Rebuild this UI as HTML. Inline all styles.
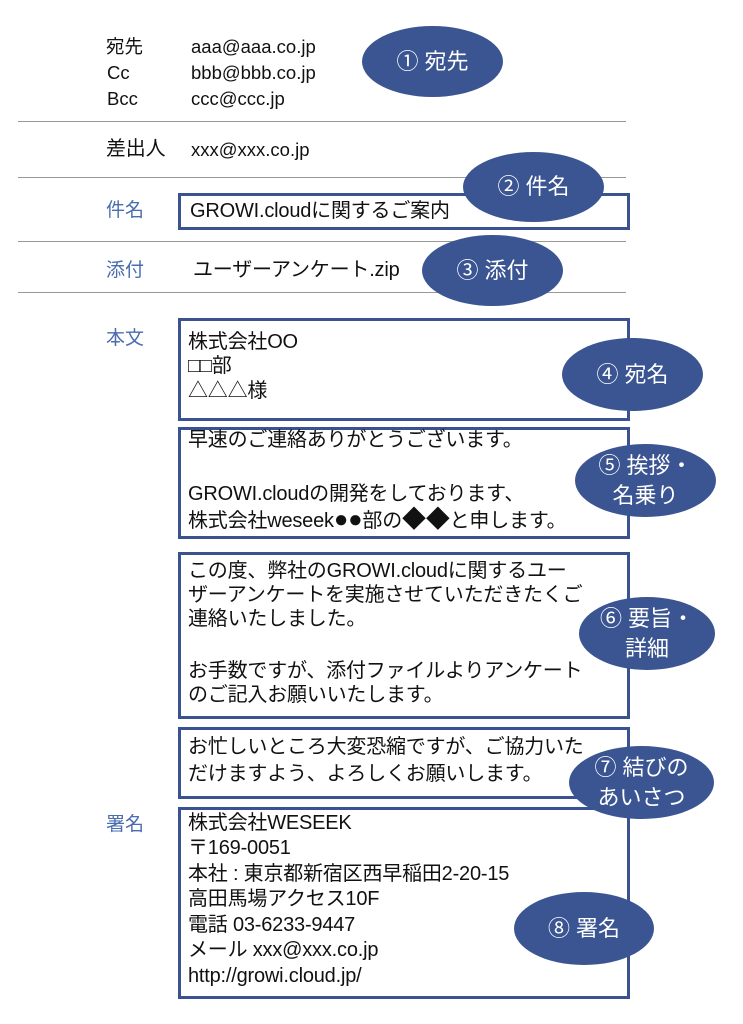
<!DOCTYPE html>
<html><head><meta charset="utf-8"><style>
body{margin:0;width:743px;height:1024px;background:#fff;position:relative;overflow:hidden;font-family:"Liberation Sans","Noto Sans CJK JP",sans-serif;color:#111;}
.t{position:absolute;font-size:18.5px;white-space:nowrap;line-height:20px;}
.b{font-size:20px;letter-spacing:-0.2px;}
.l{color:#4a6db0;font-size:19px;}
.hr{position:absolute;left:18px;width:608px;height:0;border-top:1.5px solid #999;}
.box{position:absolute;left:178px;width:446px;border:3px solid #3a5290;}
.e{position:absolute;background:#3a5591;border-radius:50%;color:#fff;font-size:22px;display:flex;align-items:center;justify-content:center;text-align:center;line-height:30px;}
.big{font-size:24px;}
</style></head><body>
<div class="t" style="left:106px;top:37px">宛先</div>
<div class="t" style="left:191px;top:37px">aaa@aaa.co.jp</div>
<div class="t" style="left:107px;top:63px">Cc</div>
<div class="t" style="left:191px;top:63px">bbb@bbb.co.jp</div>
<div class="t" style="left:107px;top:89px">Bcc</div>
<div class="t" style="left:191px;top:89px">ccc@ccc.jp</div>
<div class="hr" style="top:121px"></div>
<div class="t b" style="left:106px;top:139px">差出人</div>
<div class="t" style="left:191px;top:140px">xxx@xxx.co.jp</div>
<div class="hr" style="top:177px"></div>
<div class="t l" style="left:106px;top:201px">件名</div>
<div class="box" style="top:193px;height:31px;"></div>
<div class="t b" style="left:190px;top:201px">GROWI.cloudに関するご案内</div>
<div class="hr" style="top:241px"></div>
<div class="t l" style="left:106px;top:261px">添付</div>
<div class="t b" style="left:193px;top:260px">ユーザーアンケート.zip</div>
<div class="hr" style="top:292px"></div>
<div class="t l" style="left:106px;top:329px">本文</div>
<div class="box" style="top:318px;height:97px;"></div>
<div class="t b" style="left:188px;top:332px">株式会社OO</div>
<div class="t b" style="left:188px;top:356px">□□部</div>
<div class="t b" style="left:188px;top:381px">△△△様</div>
<div class="box" style="top:427px;height:106px;"></div>
<div class="t b" style="left:188px;top:430px">早速のご連絡ありがとうございます。</div>
<div class="t b" style="left:188px;top:484px">GROWI.cloudの開発をしております、</div>
<div class="t b" style="left:188px;top:510px">株式会社weseek<span class="big">●●</span>部の<span class="big">◆◆</span>と申します。</div>
<div class="box" style="top:552px;height:161px;"></div>
<div class="t b" style="left:188px;top:561px">この度、弊社のGROWI.cloudに関するユー</div>
<div class="t b" style="left:188px;top:585px">ザーアンケートを実施させていただきたくご</div>
<div class="t b" style="left:188px;top:609px">連絡いたしました。</div>
<div class="t b" style="left:188px;top:661px">お手数ですが、添付ファイルよりアンケート</div>
<div class="t b" style="left:188px;top:685px">のご記入お願いいたします。</div>
<div class="box" style="top:727px;height:66px;"></div>
<div class="t b" style="left:188px;top:737px">お忙しいところ大変恐縮ですが、ご協力いた</div>
<div class="t b" style="left:188px;top:764px">だけますよう、よろしくお願いします。</div>
<div class="t l" style="left:106px;top:815px">署名</div>
<div class="box" style="top:807px;height:186px;"></div>
<div class="t b" style="left:188px;top:813px">株式会社WESEEK</div>
<div class="t b" style="left:188px;top:838px">〒169-0051</div>
<div class="t b" style="left:188px;top:864px">本社 : 東京都新宿区西早稲田2-20-15</div>
<div class="t b" style="left:188px;top:889px">高田馬場アクセス10F</div>
<div class="t b" style="left:188px;top:915px">電話 03-6233-9447</div>
<div class="t b" style="left:188px;top:940px">メール xxx@xxx.co.jp</div>
<div class="t b" style="left:188px;top:966px">http://growi.cloud.jp/</div>
<div class="e" style="left:362px;top:26px;width:141px;height:71px">① 宛先</div>
<div class="e" style="left:463px;top:152px;width:141px;height:70px">② 件名</div>
<div class="e" style="left:422px;top:235px;width:141px;height:71px">③ 添付</div>
<div class="e" style="left:562px;top:338px;width:141px;height:73px">④ 宛名</div>
<div class="e" style="left:575px;top:444px;width:141px;height:73px">⑤ 挨拶・<br>名乗り</div>
<div class="e" style="left:579px;top:597px;width:136px;height:73px">⑥ 要旨・<br>詳細</div>
<div class="e" style="left:569px;top:746px;width:145px;height:73px">⑦ 結びの<br>あいさつ</div>
<div class="e" style="left:514px;top:892px;width:140px;height:73px">⑧ 署名</div>
</body></html>
